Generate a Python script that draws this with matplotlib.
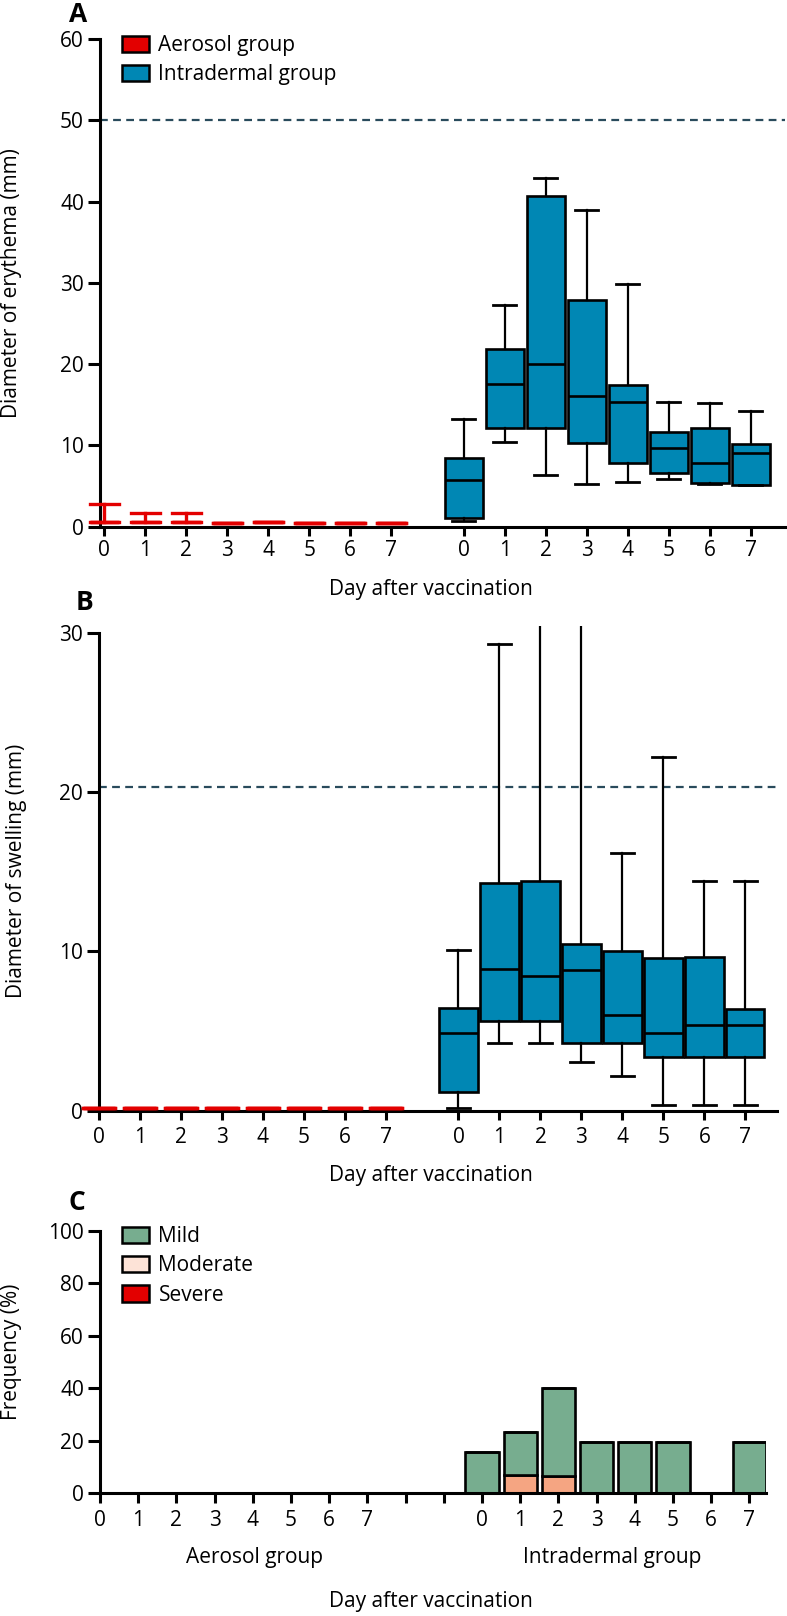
import matplotlib
matplotlib.use("Agg")
import matplotlib.pyplot as plt
from matplotlib.patches import Patch

plt.rcParams["font.family"] = ["Open Sans", "DejaVu Sans"]

# ---- data ----
days = [0, 1, 2, 3, 4, 5, 6, 7]

# A: erythema diameter (mm), intradermal group box stats
ery_id_lo = [0.75, 10.4, 6.3, 5.2, 5.5, 5.9, 5.25, 5.1]
ery_id_q1 = [1.06, 12.2, 12.2, 10.3, 7.8, 6.6, 5.4, 5.1]
ery_id_med = [5.8, 17.5, 20.0, 16.1, 15.3, 9.7, 7.85, 9.1]
ery_id_q3 = [8.4, 21.9, 40.7, 27.9, 17.4, 11.6, 12.1, 10.2]
ery_id_hi = [13.2, 27.3, 42.9, 39.0, 29.9, 15.3, 15.2, 14.2]
# A: aerosol group
ery_aer_lo = [0.55, 0.55, 0.55, 0.5, 0.55, 0.5, 0.5, 0.5]
ery_aer_hi = [2.8, 1.65, 1.65, 0.5, 0.55, 0.5, 0.5, 0.5]

# B: swelling diameter (mm), intradermal group
swe_id_lo = [0.15, 4.27, 4.27, 3.06, 2.18, 0.38, 0.38, 0.38]
swe_id_q1 = [1.15, 5.65, 5.65, 4.23, 4.23, 3.35, 3.35, 3.35]
swe_id_med = [4.88, 8.9, 8.43, 8.85, 6.0, 4.9, 5.38, 5.38]
swe_id_q3 = [6.45, 14.3, 14.4, 10.46, 10.03, 9.6, 9.65, 6.38]
swe_id_hi = [10.1, 29.3, 33.0, 33.0, 16.2, 22.18, 14.4, 14.4]
# B: aerosol group
swe_aer = [0.2, 0.2, 0.2, 0.2, 0.2, 0.2, 0.2, 0.2]

# C: frequency (%) of local reactions
aer_mild = [0, 0, 0, 0, 0, 0, 0, 0]
id_mild = [15.6, 16.4, 33.6, 19.5, 19.5, 19.5, 0, 19.5]
id_moderate = [0, 7.0, 6.5, 0, 0, 0, 0, 0]
id_severe = [0, 0, 0, 0, 0, 0, 0, 0]

erythema_cutoff = 50
swelling_cutoff = 20.3

BLUE = "#0087b4"
RED = "#e30000"
GREEN = "#77ad8f"
SALMON = "#f5a582"
PEACH = "#fde3d7"
DASH = "#294b5c"

W, H = 787, 1616
FS = 15
ID_OFF = 8.77


def px_axes(fig, left, right, top, bottom):
    return fig.add_axes([left / W, 1 - bottom / H, (right - left) / W, (bottom - top) / H])


def style_axes(ax, ytick_len=8.6, xtick_len=6.8, pad=3):
    for s in ["top", "right"]:
        ax.spines[s].set_visible(False)
    for s in ["left", "bottom"]:
        ax.spines[s].set_linewidth(2.2)
    ax.tick_params(axis="y", direction="out", length=ytick_len, width=2.2, labelsize=FS, pad=3)
    ax.tick_params(axis="x", direction="out", length=xtick_len, width=2.2, labelsize=FS, pad=pad)


def box_stats(lo, q1, med, q3, hi):
    return [dict(whislo=a, q1=b, med=c, q3=d, whishi=e, fliers=[])
            for a, b, c, d, e in zip(lo, q1, med, q3, hi)]


def draw_intradermal(ax, stats):
    pos = [d + ID_OFF for d in days]
    ax.bxp(stats, positions=pos, widths=0.93, capwidths=0.56, patch_artist=True,
           showfliers=False, manage_ticks=False,
           boxprops=dict(facecolor=BLUE, edgecolor="black", linewidth=1.9),
           medianprops=dict(color="black", linewidth=1.9),
           whiskerprops=dict(color="black", linewidth=1.6),
           capprops=dict(color="black", linewidth=2.0))


def draw_aerosol(ax, stats, width):
    art = ax.bxp(stats, positions=days, widths=width, capwidths=width, patch_artist=True,
                 showfliers=False, manage_ticks=False,
                 boxprops=dict(facecolor="none", edgecolor=RED, linewidth=2.4),
                 medianprops=dict(color=RED, linewidth=2.4),
                 whiskerprops=dict(color=RED, linewidth=2.4),
                 capprops=dict(color=RED, linewidth=2.4))
    for key in art:
        for a in art[key]:
            a.set_clip_on(False)
            a.set_zorder(3)


fig = plt.figure(figsize=(W / 100, H / 100), dpi=100)

# ---------------- A ----------------
axA = px_axes(fig, 100, 785, 39, 526.7)
style_axes(axA)
draw_aerosol(axA, box_stats(ery_aer_lo, ery_aer_lo, ery_aer_lo, ery_aer_lo, ery_aer_hi), 0.71)
draw_intradermal(axA, box_stats(ery_id_lo, ery_id_q1, ery_id_med, ery_id_q3, ery_id_hi))
axA.axhline(erythema_cutoff, color=DASH, linestyle=(0, (3.5, 2.4)), linewidth=1.6, zorder=0)
axA.set_xlim(-0.1, 16.6)
axA.set_ylim(0, 60)
axA.set_yticks([0, 10, 20, 30, 40, 50, 60])
axA.set_xticks(days + [d + ID_OFF for d in days])
axA.set_xticklabels([str(d) for d in days] * 2)
axA.legend(handles=[Patch(facecolor=RED, edgecolor="black", linewidth=1.8, label="Aerosol group"),
                    Patch(facecolor=BLUE, edgecolor="black", linewidth=1.8, label="Intradermal group")],
           loc="upper left", bbox_to_anchor=(122 / W, 1 - 35 / H), bbox_transform=fig.transFigure,
           frameon=False, fontsize=FS, borderpad=0, borderaxespad=0, handlelength=1.3,
           handleheight=0.82, handletextpad=0.45, labelspacing=0.4)

# ---------------- B ----------------
axB = px_axes(fig, 99, 777, 626.4, 1110.7)
style_axes(axB, pad=5)
axB.spines["left"].set_bounds(0, 30)
draw_aerosol(axB, box_stats(swe_aer, swe_aer, swe_aer, swe_aer, swe_aer), 0.8)
draw_intradermal(axB, box_stats(swe_id_lo, swe_id_q1, swe_id_med, swe_id_q3, swe_id_hi))
axB.axhline(swelling_cutoff, color=DASH, linestyle=(0, (3.5, 2.4)), linewidth=1.6, zorder=0)
axB.set_xlim(0, 16.54)
axB.set_ylim(0, 30.4)
axB.set_yticks([0, 10, 20, 30])
axB.set_xticks(days + [d + ID_OFF for d in days])
axB.set_xticklabels([str(d) for d in days] * 2)

# ---------------- C ----------------
axC = px_axes(fig, 100, 765.7, 1231, 1493.3)
style_axes(axC, xtick_len=7.2, pad=5)
c_pos = [d + 10 for d in days]
bar_kw = dict(width=0.87, edgecolor="black", linewidth=1.9)
axC.bar(days, aer_mild, color=GREEN, **bar_kw)
axC.bar(c_pos, id_moderate, color=SALMON, **bar_kw)
axC.bar(c_pos, id_mild, bottom=id_moderate, color=GREEN, **bar_kw)
axC.bar(c_pos, id_severe, bottom=[a + b for a, b in zip(id_moderate, id_mild)], color=RED, **bar_kw)
axC.set_xlim(0, 17.43)
axC.set_ylim(0, 100)
axC.set_yticks([0, 20, 40, 60, 80, 100])
axC.set_xticks(list(range(18)))
axC.set_xticklabels([str(d) for d in days] + ["", ""] + [str(d) for d in days])
axC.legend(handles=[Patch(facecolor=GREEN, edgecolor="black", linewidth=1.8, label="Mild"),
                    Patch(facecolor=PEACH, edgecolor="black", linewidth=1.8, label="Moderate"),
                    Patch(facecolor=RED, edgecolor="black", linewidth=1.8, label="Severe")],
           loc="upper left", bbox_to_anchor=(122 / W, 1 - 1226 / H), bbox_transform=fig.transFigure,
           frameon=False, fontsize=FS, borderpad=0, borderaxespad=0, handlelength=1.3,
           handleheight=0.82, handletextpad=0.45, labelspacing=0.4)


# ---------------- texts ----------------
def ftext(x, y, s, size=FS, **kw):
    fig.text(x / W, 1 - y / H, s, ha="center", va="center", fontsize=size, **kw)


ftext(78, 14, "A", size=19, fontweight="bold")
ftext(85, 603, "B", size=19, fontweight="bold")
ftext(77, 1203, "C", size=19, fontweight="bold")

ftext(12, 283, "Diameter of erythema (mm)", rotation=90)
ftext(17, 871, "Diameter of swelling (mm)", rotation=90)
ftext(12, 1352, "Frequency (%)", rotation=90)

ftext(431, 590, "Day after vaccination")
ftext(431, 1175, "Day after vaccination")
ftext(255, 1557, "Aerosol group")
ftext(612, 1557, "Intradermal group")
ftext(431, 1601, "Day after vaccination")

fig.savefig("out.png", dpi=100)
